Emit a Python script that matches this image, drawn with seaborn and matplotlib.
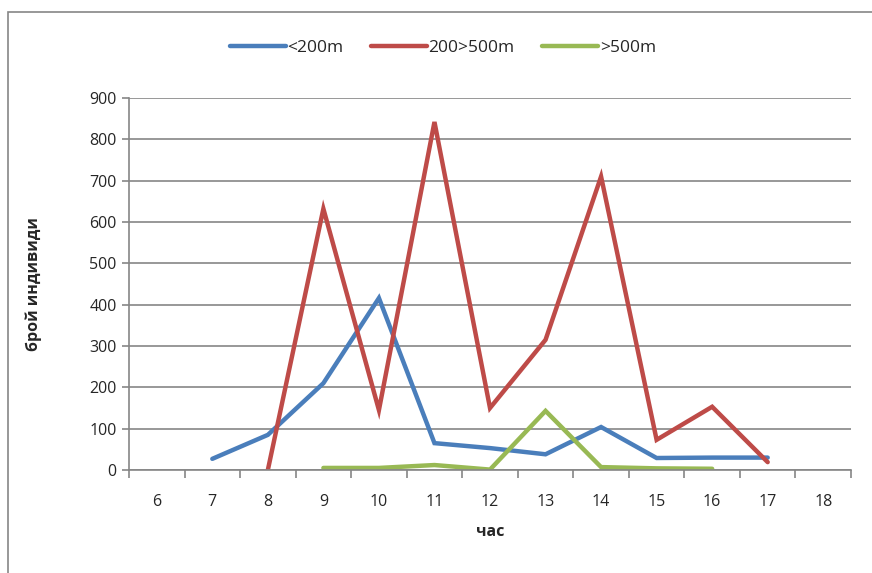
import numpy as np
import pandas as pd
import matplotlib
matplotlib.use("Agg")
import matplotlib.pyplot as plt
from matplotlib.patches import Rectangle
import seaborn as sns

# hours on the category axis
hours = [6, 7, 8, 9, 10, 11, 12, 13, 14, 15, 16, 17, 18]

# counts per hour (NaN = no value)
below_200 = [np.nan, 27, 85, 210, 416, 65, 53, 38, 104, 29, 30, 30, np.nan]
mid_200_500 = [np.nan, np.nan, 0, 632, 145, 842, 150, 315, 710, 73, 153, 19, np.nan]
above_500 = [np.nan, np.nan, np.nan, 5, 5, 12, 1, 143, 7, 4, 3, np.nan, np.nan]

series_names = ["<200m", "200>500m", ">500m"]
colors = ["#4a7ebb", "#be4b48", "#98b954"]

df = pd.DataFrame({"час": hours, series_names[0]: below_200,
                   series_names[1]: mid_200_500, series_names[2]: above_500})
long_df = df.melt(id_vars="час", var_name="series", value_name="count").dropna()

sns.set_style("white")
plt.rcParams['font.family'] = ['Open Sans', 'DejaVu Sans']

fig = plt.figure(figsize=(8.72, 5.73), dpi=100)
ax = fig.add_axes([129 / 872, 1 - 470 / 573, (851 - 129) / 872, (470 - 98) / 573])

sns.lineplot(data=long_df, x="час", y="count", hue="series", hue_order=series_names,
             palette=colors, linewidth=3.2, ax=ax, legend=False,
             solid_capstyle="round", solid_joinstyle="miter")

grid_col = "#868686"
ax.set_xlim(5.5, 18.5)
ax.set_ylim(0, 900)
ax.set_yticks(range(0, 901, 100))
ax.set_xticks(hours)
ax.set_xticks(np.arange(5.5, 18.6, 1), minor=True)
ax.yaxis.grid(True, color=grid_col, linewidth=1.2)
ax.set_axisbelow(True)
for side in ["top", "right"]:
    ax.spines[side].set_visible(False)
for side in ["left", "bottom"]:
    ax.spines[side].set_color(grid_col)
    ax.spines[side].set_linewidth(1.2)
ax.tick_params(axis="y", which="major", length=5, color=grid_col, width=1.2,
               labelsize=11.5, pad=4, left=True)
ax.tick_params(axis="x", which="major", length=0, labelsize=11.5, pad=17)
ax.tick_params(axis="x", which="minor", length=6, color=grid_col, width=1.2, bottom=True)

ax.set_xlabel("час", fontsize=11.5, fontweight="bold", labelpad=10)
ax.set_ylabel("брой индивиди", fontsize=11.5, fontweight="bold", labelpad=34)

handles = [plt.Line2D([], [], color=c, linewidth=3.2, solid_capstyle="round") for c in colors]
fig.legend(handles, series_names, loc="center", bbox_to_anchor=(0.508, 1 - 48 / 573),
           ncol=3, frameon=False, fontsize=12.5, handlelength=3.2, handletextpad=0.1,
           columnspacing=1.6)

# outer chart border (clipped at right and bottom like the reference)
fig.add_artist(Rectangle((8 / 872, -0.1), 1.2, 1 - 12 / 573 + 0.1, fill=False,
                         edgecolor=grid_col, linewidth=1.2, transform=fig.transFigure,
                         clip_on=False))

fig.savefig("out.png", dpi=100)
